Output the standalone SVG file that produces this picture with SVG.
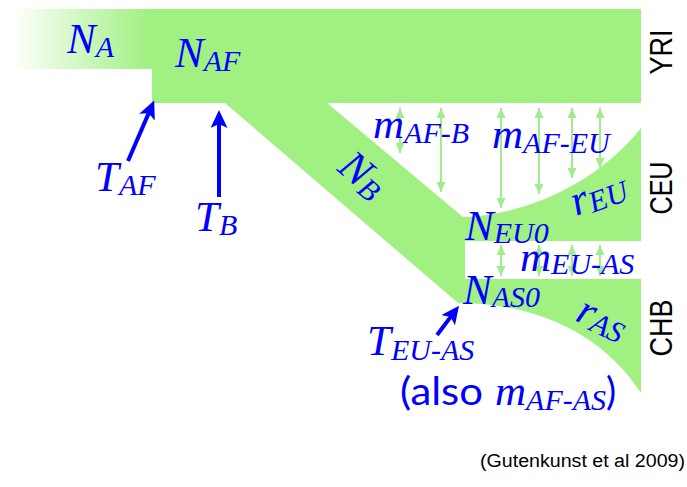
<svg xmlns="http://www.w3.org/2000/svg" width="687" height="487" viewBox="0 0 687 487">
<style>
.m{font-family:"Liberation Serif","Times New Roman",serif;font-style:italic;fill:#0000ff;font-size:43px}
.s{font-size:30px}
.lab{font-family:"Liberation Sans",Arial,sans-serif;fill:#000;font-size:32px}
.sans{font-family:Lato,"Open Sans",sans-serif;fill:#0000ff;font-size:38px}
.mig{stroke:#a3ec8e;stroke-width:2;fill:none;marker-start:url(#gh);marker-end:url(#gh)}
.tarr{stroke:#0000ff;stroke-width:4;fill:none;marker-end:url(#bh)}
</style>
<defs>
<linearGradient id="ga" x1="12" y1="0" x2="150" y2="0" gradientUnits="userSpaceOnUse">
<stop offset="0" stop-color="#a0f082" stop-opacity="0"/>
<stop offset="1" stop-color="#a0f082"/>
</linearGradient>
<marker id="gh" markerUnits="userSpaceOnUse" markerWidth="11" markerHeight="10" refX="10" refY="4.5" orient="auto-start-reverse">
<path d="M0,0 L10,4.5 L0,9 Z" fill="#a3ec8e"/>
</marker>
<marker id="bh" markerUnits="userSpaceOnUse" markerWidth="19" markerHeight="18" refX="7" refY="8.5" orient="auto">
<path d="M0,0 L18,8.5 L0,17 L4,8.5 Z" fill="#0000ff"/>
</marker>
</defs>

<g id="ancestral">
<rect x="12" y="9" width="141" height="60" fill="url(#ga)"/>
</g>
<g id="tree">
<path d="M152,9 H641 V103 H327 L463,217 C530,215 600,180 641,128 V241 H465 V279 H641 V393 C600,330 530,303 458,303 L225,103 H152 Z" fill="#a0f082"/>
</g>

<g id="connectors">
<line class="mig" x1="400" y1="108" x2="400" y2="153"/>
<line class="mig" x1="441" y1="108" x2="441" y2="192"/>
<line class="mig" x1="501" y1="108" x2="501" y2="208"/>
<line class="mig" x1="539" y1="108" x2="539" y2="194"/>
<line class="mig" x1="572" y1="108" x2="572" y2="178"/>
<line class="mig" x1="600" y1="108" x2="600" y2="168"/>
<line class="mig" x1="501" y1="245" x2="501" y2="276"/>
<line class="mig" x1="539" y1="245" x2="539" y2="276"/>
<line class="mig" x1="572" y1="245" x2="572" y2="276"/>
<line class="mig" x1="600" y1="245" x2="600" y2="276"/>
<line class="tarr" x1="128" y1="161" x2="149.8" y2="110.6"/>
<line class="tarr" x1="219" y1="197" x2="219" y2="121"/>
<line class="tarr" x1="437" y1="335" x2="452.4" y2="314.6"/>
</g>

<g id="labels">
<text class="m" x="67" y="53" font-size="41">N<tspan class="s" dy="4">A</tspan></text>
<text class="m" x="175" y="67">N<tspan class="s" dy="4">AF</tspan></text>
<text class="m" x="95" y="191">T<tspan class="s" dy="4">AF</tspan></text>
<text class="m" x="195" y="231">T<tspan class="s" dy="4">B</tspan></text>
<text class="m" x="373" y="138">m<tspan class="s" dy="5">AF-B</tspan></text>
<text class="m" x="492" y="148">m<tspan class="s" dy="5">AF-EU</tspan></text>
<text class="m" transform="translate(336,170) rotate(40)">N<tspan class="s" dy="4">B</tspan></text>
<text class="m" transform="translate(576,216) rotate(-20)">r<tspan class="s" dy="3">EU</tspan></text>
<text class="m" x="465" y="240">N<tspan class="s" dy="3">EU0</tspan></text>
<text class="m" x="520" y="271">m<tspan class="s" dy="3">EU-AS</tspan></text>
<text class="m" x="463" y="304">N<tspan class="s" dy="3">AS0</tspan></text>
<text class="m" transform="translate(574,320) rotate(25)">r<tspan class="s" dy="3">AS</tspan></text>
<text class="m" x="367" y="355">T<tspan class="s" dy="5">EU-AS</tspan></text>
<text class="sans" x="400" y="405" textLength="83" lengthAdjust="spacingAndGlyphs">(also</text>
<text class="m" x="495" y="405">m<tspan class="s" dy="5">AF-AS</tspan></text>
<text class="sans" x="606" y="405">)</text>
</g>

<g id="populations">
<text class="lab" transform="translate(672,52) rotate(-90)" text-anchor="middle" textLength="45" lengthAdjust="spacingAndGlyphs">YRI</text>
<text class="lab" transform="translate(672,188) rotate(-90)" text-anchor="middle" textLength="53" lengthAdjust="spacingAndGlyphs">CEU</text>
<text class="lab" transform="translate(672,328) rotate(-90)" text-anchor="middle" textLength="57" lengthAdjust="spacingAndGlyphs">CHB</text>
</g>

<text x="480" y="467" style="font-family:'Liberation Sans',Arial,sans-serif;font-size:18px;fill:#000" textLength="205" lengthAdjust="spacingAndGlyphs">(Gutenkunst et al 2009)</text>
</svg>
